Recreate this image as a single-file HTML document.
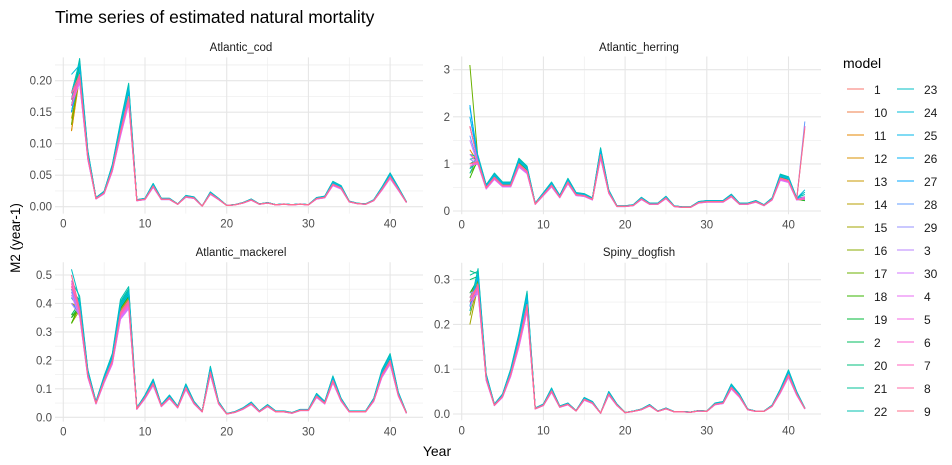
<!DOCTYPE html>
<html><head><meta charset="utf-8">
<style>
html,body{margin:0;padding:0;background:#fff;}
svg{display:block;font-family:"Liberation Sans",Arial,sans-serif;}
</style></head>
<body>
<svg id="chart" width="952" height="465" viewBox="0 0 952 465">
<rect width="952" height="465" fill="#fff"/>
<text x="55" y="23" font-size="17.5" fill="#000">Time series of estimated natural mortality</text>
<text transform="translate(20,238) rotate(-90)" text-anchor="middle" font-size="13.5" fill="#000">M2 (year-1)</text>
<text x="437" y="456" text-anchor="middle" font-size="14" fill="#000">Year</text>
<g id="panels"></g>
<g id="legend"></g>
</svg>
<script>
const modelLevels = ["1","10","11","12","13","14","15","16","17","18","19","2","20","21","22","23","24","25","26","27","28","29","3","30","4","5","6","7","8","9"];
const modelScale = [1.0,1.02,0.98,1.0,0.97,1.01,0.99,1.0,1.03,1.05,1.04,1.06,1.08,1.1,1.12,1.09,1.07,1.05,1.0,0.98,0.96,0.95,0.94,0.93,0.95,0.96,0.97,0.98,0.99,1.0];
const years = [1,2,3,4,5,6,7,8,9,10,11,12,13,14,15,16,17,18,19,20,21,22,23,24,25,26,27,28,29,30,31,32,33,34,35,36,37,38,39,40,41,42];
const codBase = [0.17,0.21,0.08,0.013,0.022,0.06,0.12,0.175,0.01,0.012,0.033,0.012,0.012,0.004,0.016,0.014,0.001,0.021,0.012,0.002,0.003,0.006,0.011,0.004,0.006,0.003,0.004,0.003,0.004,0.003,0.013,0.015,0.036,0.03,0.008,0.005,0.004,0.01,0.028,0.048,0.028,0.007];
const herringBase = [1.0,1.05,0.5,0.72,0.55,0.55,1.0,0.85,0.15,0.35,0.55,0.3,0.62,0.35,0.33,0.25,1.2,0.4,0.1,0.1,0.12,0.26,0.15,0.15,0.28,0.1,0.08,0.08,0.18,0.2,0.2,0.2,0.32,0.15,0.15,0.2,0.12,0.25,0.7,0.65,0.25,0.28];
const mackerelBase = [0.45,0.38,0.15,0.05,0.13,0.2,0.37,0.41,0.03,0.07,0.12,0.04,0.07,0.035,0.105,0.05,0.02,0.16,0.05,0.012,0.018,0.03,0.048,0.02,0.04,0.02,0.02,0.015,0.025,0.025,0.075,0.05,0.13,0.06,0.02,0.02,0.02,0.06,0.15,0.2,0.08,0.015];
const dogfishBase = [0.25,0.29,0.08,0.02,0.04,0.09,0.16,0.245,0.012,0.02,0.052,0.016,0.022,0.007,0.033,0.025,0.002,0.045,0.02,0.003,0.006,0.01,0.019,0.006,0.012,0.005,0.005,0.004,0.007,0.006,0.022,0.025,0.06,0.04,0.01,0.006,0.006,0.018,0.05,0.088,0.045,0.012];
const codYear1 = [0.17,0.16,0.12,0.12,0.14,0.15,0.13,0.15,0.13,0.17,0.18,0.16,0.17,0.18,0.17,0.18,0.21,0.15,0.16,0.15,0.17,0.18,0.16,0.17,0.16,0.18,0.17,0.16,0.17,0.18];
const herringYear1 = [1.2,1.8,1.3,1.8,1.0,0.9,1.0,0.8,3.1,0.7,0.9,1.0,1.1,1.2,0.8,2.2,0.9,2.0,1.0,2.25,1.6,1.1,1.0,1.5,1.2,1.0,0.95,1.8,1.0,1.0];
const herringYear42 = [0.25,0.3,0.28,0.22,0.3,0.25,0.22,0.3,0.28,0.25,0.22,0.3,0.25,0.28,0.35,0.4,0.45,0.3,0.25,1.8,1.9,0.3,0.25,0.28,0.25,0.3,0.28,1.8,0.25,1.75];
const mackerelYear1 = [0.45,0.4,0.36,0.42,0.36,0.4,0.33,0.35,0.33,0.33,0.35,0.36,0.45,0.42,0.48,0.52,0.44,0.46,0.42,0.4,0.45,0.44,0.4,0.43,0.46,0.48,0.5,0.47,0.46,0.5];
const dogfishYear1 = [0.26,0.27,0.25,0.27,0.24,0.25,0.2,0.22,0.26,0.25,0.27,0.3,0.32,0.31,0.24,0.23,0.24,0.25,0.26,0.24,0.25,0.27,0.26,0.25,0.24,0.26,0.25,0.25,0.26,0.25];
const xTicks = [0,10,20,30,40];
const codTicks = [0,0.05,0.1,0.15,0.2];
const codTickLabels = ["0.00","0.05","0.10","0.15","0.20"];
const herringTicks = [0,1,2,3];
const herringTickLabels = ["0","1","2","3"];
const mackerelTicks = [0,0.1,0.2,0.3,0.4,0.5];
const mackerelTickLabels = ["0.0","0.1","0.2","0.3","0.4","0.5"];
const dogfishTicks = [0,0.1,0.2,0.3];
const dogfishTickLabels = ["0.0","0.1","0.2","0.3"];

const NS="http://www.w3.org/2000/svg";
function mk(tag, attrs, parent){const e=document.createElementNS(NS,tag);for(const k in attrs)e.setAttribute(k,attrs[k]);if(parent)parent.appendChild(e);return e;}

function hcl(h){
  const L=65,C=100,hr=h*Math.PI/180;
  const u=C*Math.cos(hr),v=C*Math.sin(hr);
  const Xn=95.047,Yn=100,Zn=108.883;
  const Y=Math.pow((L+16)/116,3)*Yn;
  const un=4*Xn/(Xn+15*Yn+3*Zn),vn=9*Yn/(Xn+15*Yn+3*Zn);
  const up=u/(13*L)+un,vp=v/(13*L)+vn;
  const X=Y*9*up/(4*vp),Z=Y*(12-3*up-20*vp)/(4*vp);
  const x=X/100,y=Y/100,z=Z/100;
  let r=3.2406*x-1.5372*y-0.4986*z,g=-0.9689*x+1.8758*y+0.0415*z,b=0.0557*x-0.2040*y+1.0570*z;
  const gm=c=>{c=c<=0.0031308?12.92*c:1.055*Math.pow(c,1/2.4)-0.055;return Math.round(Math.max(0,Math.min(1,c))*255);};
  return "rgb("+gm(r)+","+gm(g)+","+gm(b)+")";
}
const colors = modelLevels.map((_,i)=>hcl(15+i*12));

const panels = [
 {name:"Atlantic_cod",key:"cod",base:codBase,y1:codYear1,ticks:codTicks,labels:codTickLabels,ymin:-0.011,ymax:0.237,px0:55,px1:423,py0:58,py1:214,x0px:63.3,ypx0:206.7,ypx1:80.7,yv1:0.2,stripY:51},
 {name:"Atlantic_herring",key:"herring",base:herringBase,y1:herringYear1,last:herringYear42,ticks:herringTicks,labels:herringTickLabels,ymin:-0.07,ymax:3.28,px0:453,px1:821,py0:58,py1:214,x0px:461.7,ypx0:211,ypx1:69.7,yv1:3,stripY:51},
 {name:"Atlantic_mackerel",key:"mackerel",base:mackerelBase,y1:mackerelYear1,ticks:mackerelTicks,labels:mackerelTickLabels,ymin:-0.015,ymax:0.545,px0:55,px1:423,py0:262,py1:421,x0px:63.3,ypx0:417.3,ypx1:275,yv1:0.5,stripY:256},
 {name:"Spiny_dogfish",key:"dogfish",base:dogfishBase,y1:dogfishYear1,ticks:dogfishTicks,labels:dogfishTickLabels,ymin:-0.014,ymax:0.338,px0:453,px1:821,py0:262,py1:421,x0px:461.7,ypx0:414,ypx1:279.7,yv1:0.3,stripY:256}
];
const root=document.getElementById("panels");
const xPerYear=8.17;
panels.forEach(p=>{
  const g=mk("g",{},root);
  
  
  const xs=v=>p.x0px+v*xPerYear;
  const ys=v=>p.ypx0+(p.ypx1-p.ypx0)*v/p.yv1;
  const yTop=ys(p.ymax), yBot=ys(p.ymin);
  // minor grid
  const step=p.ticks[1]-p.ticks[0];
  for(let i=0;i<p.ticks.length+1;i++){
    const v=p.ticks[0]+step*(i-0.5)+step;
    const vv=p.ticks[0]+step*i-step/2;
    [vv].forEach(m=>{ if(m>p.ymin&&m<p.ymax){const l=mk("line",{x1:p.px0,x2:p.px1,y1:ys(m),y2:ys(m),stroke:"#ececec","stroke-width":0.6},g);}});
  }
  const lastMinor=p.ticks[p.ticks.length-1]+step/2;
  if(lastMinor<p.ymax){const l=mk("line",{x1:p.px0,x2:p.px1,y1:ys(lastMinor),y2:ys(lastMinor),stroke:"#ececec","stroke-width":0.6},g);}
  [5,15,25,35].forEach(m=>{const l=mk("line",{x1:xs(m),x2:xs(m),y1:yTop,y2:yBot,stroke:"#ececec","stroke-width":0.6},g);});
  p.ticks.forEach((t,i)=>{
    const l=mk("line",{x1:p.px0,x2:p.px1,y1:ys(t),y2:ys(t),stroke:"#e6e6e6","stroke-width":1.1},g);
    
    
    const tx=mk("text",{x:p.px0-3,y:ys(t)+4,"text-anchor":"end","font-size":"11.5",fill:"#4d4d4d"},g);
    tx.textContent=p.labels[i];
    
    
  });
  xTicks.forEach(t=>{
    const l=mk("line",{x1:xs(t),x2:xs(t),y1:yTop,y2:yBot,stroke:"#e6e6e6","stroke-width":1.1},g);
    
    
    const tx=mk("text",{x:xs(t),y:yBot+14,"text-anchor":"middle","font-size":"11.5",fill:"#4d4d4d"},g);
    tx.textContent=String(t);
    
    
  });
  const st=mk("text",{x:(p.px0+p.px1)/2+2,y:p.stripY,"text-anchor":"middle","font-size":"11.5",fill:"#1a1a1a"},g);
  st.textContent=p.name;
  
  
  modelLevels.forEach((m,mi)=>{
    const pts=years.map((yr,ti)=>{
      let v=p.base[ti]*modelScale[mi];
      if(ti===0) v=p.y1[mi];
      if(p.last && ti===years.length-1) v=p.last[mi];
      return xs(yr).toFixed(2)+","+ys(v).toFixed(2);
    });
    const pl=mk("polyline",{points:pts.join(" "),fill:"none",stroke:colors[mi],"stroke-width":1,"stroke-linejoin":"round"},g);
    
    
  });
});
// legend
const lg=document.getElementById("legend");
const lt=mk("text",{x:843,y:68,"font-size":"14",fill:"#000"},lg);
lt.textContent="model";


modelLevels.forEach((m,i)=>{
  const col=Math.floor(i/15), row=i%15;
  const x=847+col*50, y=89+row*23;
  const e=mk("g",{},lg);
  
  
  mk("line",{x1:x,x2:x+17,y1:y,y2:y,stroke:colors[i],"stroke-width":1},e);
  const t=mk("text",{x:x+27,y:y+5,"font-size":"12",fill:"#1a1a1a"},e);
  t.textContent=m;
});
</script>
</body></html>
